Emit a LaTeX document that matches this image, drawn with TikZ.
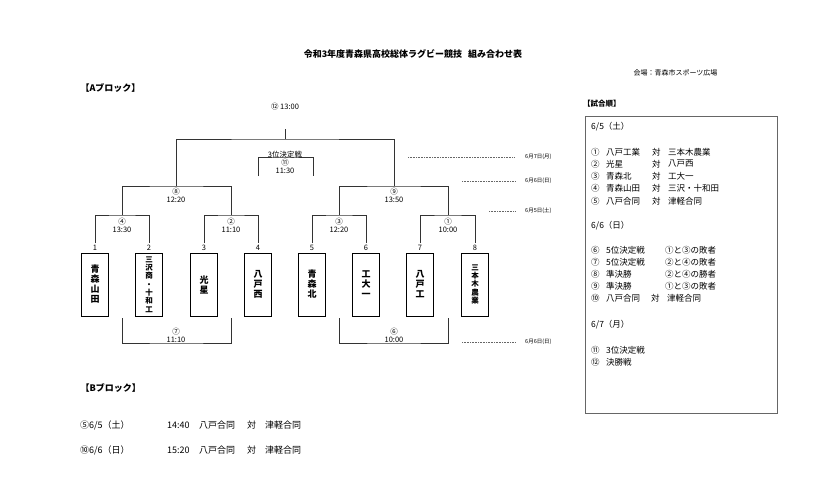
\documentclass[tikz,border=0pt]{standalone}
\usepackage{fontspec}
\setmainfont{Noto Sans CJK JP}
\begin{document}
\begin{tikzpicture}[x=1pt,y=-1pt,
  ln/.style={draw=black!80,line width=0.7pt},
  lbl/.style={font=\fontsize{7.5}{8}\selectfont,inner sep=0pt},
  tm/.style={font=\fontsize{7.5}{8}\selectfont,inner sep=0pt,align=center},
  team/.style={draw,line width=0.8pt,minimum width=27pt,minimum height=63pt,inner sep=0pt,align=center,font=\fontsize{9}{10}\selectfont\bfseries},
  team2/.style={team,font=\fontsize{7.5}{8.3}\selectfont\bfseries},
  dline/.style={draw=black!60,dash pattern=on 1pt off 0.6pt,line width=0.5pt},
  dt/.style={font=\fontsize{5.5}{6}\selectfont,inner sep=0pt,anchor=west},
  lst/.style={font=\fontsize{8.5}{9}\selectfont,inner sep=0pt,anchor=west},
  bt/.style={font=\fontsize{9}{10}\selectfont,anchor=west,inner sep=0pt}]
\useasboundingbox (0,0) rectangle (828,482);
\fill[white] (0,0) rectangle (828,482);
\node[font=\fontsize{9}{10}\selectfont\bfseries] (title) at (413,54) {令和3年度青森県高校総体ラグビー競技\hspace{6pt}組み合わせ表};
\node[font=\fontsize{7}{8}\selectfont,anchor=west] (venue) at (630,73) {会場：青森市スポーツ広場};
\node[font=\fontsize{9}{10}\selectfont\bfseries,anchor=west] (ablk) at (77,88) {【Aブロック】};
% teams
\foreach \i/\x/\t/\s in {1/95/青\\森\\山\\田/team,2/149/三\\沢\\商\\・\\十\\和\\工/team2,3/204/光\\星/team,4/258/八\\戸\\西/team,5/312/青\\森\\北/team,6/366/工\\大\\一/team,7/420/八\\戸\\工/team,8/475/三\\本\\木\\農\\業/team2}{
  \node[\s] (t\i) at (\x,284.5) {\t};
  \node[lbl] (n\i) at (\x,248) {\i};
  \coordinate (q\i) at (\x,243);
}
% quarterfinals
\foreach \a/\b/\c/\m/\tt in {1/2/122/④/13:30,3/4/231/②/11:10,5/6/339/③/12:20,7/8/448/①/10:00}{
  \coordinate (qa\a) at (\c,215);
  \draw[ln] (q\a) |- (qa\a) -| (q\b);
  \node[tm] (ql\a) at (\c,225) {\m\\\tt};
}
% semis
\coordinate (s1) at (176,186); \coordinate (s2) at (394,186);
\draw[ln] (qa1) |- (s1) -| (qa3);
\draw[ln] (qa5) |- (s2) -| (qa7);
\node[tm] (sl1) at (176,195) {⑧\\12:20};
\node[tm] (sl2) at (394,195) {⑨\\13:50};
% final
\coordinate (f) at (285,139); \coordinate (ftop) at (285,129);
\draw[ln] (s1) |- (f) -| (s2);
\draw[ln] (f) -- (ftop);
\node[lbl] (fl) at (285,107) {⑫ 13:00};
% third place
\coordinate (tp1) at (258,176); \coordinate (tp2) at (313,176);
\draw[ln] (tp1) |- (285,157) -| (tp2);
\node[tm] (tpl) at (285,162) {3位決定戦\\⑪\\11:30};
% 5th place
\coordinate (fa) at (176,343); \coordinate (fb) at (394,343);
\draw[ln] (122,318) |- (fa) -| (231,318);
\draw[ln] (339,318) |- (fb) -| (448,318);
\node[tm] (fal) at (176,335) {⑦\\11:10};
\node[tm] (fbl) at (394,335) {⑥\\10:00};
% dates
\foreach \y/\x/\d [count=\k] in {157/408/6月7日(月),181/462/6月6日(日),211/489/6月5日(土),342/462/6月6日(日)}{
  \draw[dline] (\x,\y) -- (515,\y);
  \node[dt] (d\k) at (525,\y) {\d};
}
% order box
\node[font=\fontsize{7.5}{8}\selectfont\bfseries,anchor=west,inner sep=0pt] (oh) at (583,104) {【試合順】};
\draw[draw=black!60,line width=0.6pt] (585,116) rectangle (777,413);
\node[lst] (o0) at (591,127) {6/5（土）};
\node[lst] (o6) at (591,226) {6/6（日）};
\node[lst] (o12) at (591,325) {6/7（月）};
\foreach \y/\a/\b/\c/\d in {152/①/八戸工業/対/三本木農業,164/②/光星/対/八戸西,176/③/青森北/対/工大一,188/④/青森山田/対/三沢・十和田,201/⑤/八戸合同/対/津軽合同}{
  \node[lst] at (591,\y) {\a};
  \node[lst] at (606,\y) {\b};
  \node[lst] at (652,\y) {\c};
  \node[lst] at (668,\y) {\d};
}
\foreach \y/\a/\b/\d in {250/⑥/5位決定戦/①と③の敗者,262/⑦/5位決定戦/②と④の敗者,274/⑧/準決勝/②と④の勝者,286/⑨/準決勝/①と③の敗者}{
  \node[lst] at (591,\y) {\a};
  \node[lst] at (606,\y) {\b};
  \node[lst] at (665,\y) {\d};
}
\node[lst] at (591,298) {⑩};
\node[lst] at (606,298) {八戸合同};
\node[lst] at (651,298) {対};
\node[lst] at (667,298) {津軽合同};
\node[lst] at (591,350) {⑪};
\node[lst] at (606,350) {3位決定戦};
\node[lst] at (591,362) {⑫};
\node[lst] at (606,362) {決勝戦};
% B block
\node[font=\fontsize{9}{10}\selectfont\bfseries,anchor=west] (bblk) at (77,388) {【Bブロック】};
\node[bt] (ba1) at (80,425) {⑤6/5（土）};
\node[bt] (ba2) at (80,450) {⑩6/6（日）};
\foreach \y/\t in {425/14:40,450/15:20}{
  \node[bt] at (167,\y) {\t};
  \node[bt] at (199,\y) {八戸合同};
  \node[bt] at (247,\y) {対};
  \node[bt] at (265,\y) {津軽合同};
}
\end{tikzpicture}
\end{document}
